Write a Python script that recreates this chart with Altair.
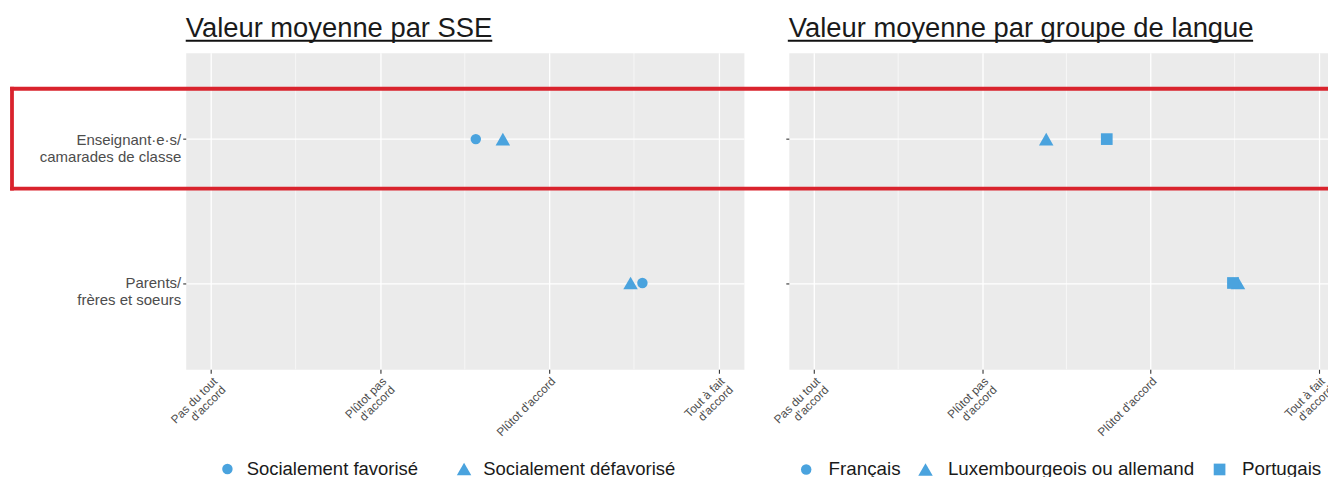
import json
import altair as alt
import pandas as pd

# ---------------- data ----------------
rows = ["Enseignant·e·s/ camarades de classe", "Parents/ frères et soeurs"]
x_ticks = [1, 2, 3, 4]
x_labels = ["Pas du tout|d'accord", "Plûtot pas|d'accord", "Plûtot d'accord", "Tout à fait|d'accord"]
minor_ticks = [1.5, 2.5, 3.5]

sse_groups = ["Socialement favorisé", "Socialement défavorisé"]
sse_teachers = [2.565, 2.725]
sse_parents = [3.55, 3.48]

lang_groups = ["Français", "Luxembourgeois ou allemand", "Portugais"]
lang_teachers = [2.74, 2.38, 2.74]
lang_parents = [3.49, 3.52, 3.49]

BLUE = "#4aa3de"
RED = "#d9232d"
FONT = "Liberation Sans"


def make_df(groups, teachers, parents):
    recs = []
    for g, t, p in zip(groups, teachers, parents):
        recs.append({"item": rows[0], "groupe": g, "valeur": t})
        recs.append({"item": rows[1], "groupe": g, "valeur": p})
    return pd.DataFrame(recs)


x_label_expr = "split(%s[datum.value - 1], '|')" % json.dumps(x_labels, ensure_ascii=False)
y_label_expr = "split(replace(datum.label, '/ ', '/|'), '|')"


def panel(df, groups, shapes, sizes, width, xmax, title, ul_x1, ul_x2,
          leg_x, leg_pad, leg_off, leg_fs, show_ylabels, extent):
    xscale = alt.Scale(domain=[0.85, xmax], nice=False, zero=False)
    yscale = alt.Scale(type="point", padding=0.6, domain=rows)
    xaxis = alt.Axis(values=x_ticks, labelExpr=x_label_expr, labelAngle=315,
                     labelAlign="right", labelBaseline="top", labelFontSize=11.8,
                     labelLineHeight=12, labelColor="#4d4d4d", labelPadding=2,
                     labelFont=FONT, tickSize=4, tickColor="#333333", tickWidth=1.1,
                     grid=True, gridColor="white", gridWidth=1.3, domain=False,
                     title=None, labelOverlap=False, labelFlush=False)
    yaxis = alt.Axis(labels=show_ylabels, labelExpr=y_label_expr, labelFontSize=15,
                     labelLineHeight=17, labelColor="#4d4d4d", labelPadding=2,
                     labelFont=FONT, tickSize=3, tickColor="#333333", tickWidth=1.1,
                     grid=True, gridColor="white", gridWidth=1.3, domain=False,
                     title=None, minExtent=extent, labelLimit=0)
    legend = alt.Legend(orient="none", legendX=leg_x, legendY=407.5, direction="horizontal",
                        title=None, labelFontSize=leg_fs, labelColor="#1a1a1a", labelFont=FONT,
                        columnPadding=leg_pad, labelOffset=leg_off, symbolFillColor=BLUE,
                        symbolStrokeWidth=0, symbolOpacity=1, padding=0, labelLimit=0)

    minor = alt.Chart(pd.DataFrame({"m": minor_ticks})).mark_rule(
        color="white", strokeWidth=0.6
    ).encode(x=alt.X("m:Q", scale=xscale, axis=xaxis))

    points = alt.Chart(df).mark_point(filled=True, opacity=1, color=BLUE, strokeWidth=0).encode(
        x=alt.X("valeur:Q", scale=xscale, axis=xaxis),
        y=alt.Y("item:N", scale=yscale, axis=yaxis, sort=rows),
        shape=alt.Shape("groupe:N", scale=alt.Scale(domain=groups, range=shapes),
                        legend=legend, sort=groups),
        size=alt.Size("groupe:N", scale=alt.Scale(type="ordinal", domain=groups, range=sizes),
                      legend=legend, sort=groups),
    )

    underline = alt.Chart(alt.Data(values=[{}])).mark_rule(color="#111111", strokeWidth=2).encode(
        x=alt.value(ul_x1), x2=alt.value(ul_x2), y=alt.value(-12)
    )

    t = alt.TitleParams(title, anchor="start", frame="group", fontSize=27.4, font=FONT,
                        fontWeight="normal", color="#1a1a1a", offset=-3)
    return [minor, points, underline], t


left_layers, left_title = panel(
    make_df(sse_groups, sse_teachers, sse_parents), sse_groups,
    ["circle", "triangle-up"], [110, 210], 559, 4.15,
    "Valeur moyenne par SSE", 0, 307, 32.5, 36, 10, 18.5, True, 175)

right_layers, right_title = panel(
    make_df(lang_groups, lang_teachers, lang_parents), lang_groups,
    ["circle", "triangle-up", "square"], [110, 210, 137], 556, 4.15,
    "Valeur moyenne par groupe de langue", -1, 465, 8, 15.5, 13, 18.8, False, 4)

# highlight box (annotation), drawn in the right panel so it lies on top of both
one = alt.Data(values=[{}])
box_top = alt.Chart(one).mark_rule(color=RED, strokeWidth=3.8, strokeCap="square").encode(
    x=alt.value(-778), x2=alt.value(556), y=alt.value(36))
box_bottom = alt.Chart(one).mark_rule(color=RED, strokeWidth=3.8, strokeCap="square").encode(
    x=alt.value(-778), x2=alt.value(556), y=alt.value(136))
box_left = alt.Chart(one).mark_rule(color=RED, strokeWidth=3.8, strokeCap="square").encode(
    x=alt.value(-778), y=alt.value(36), y2=alt.value(136))

left = alt.layer(*left_layers).properties(width=559, height=317, title=left_title)
right = alt.layer(*right_layers, box_top, box_bottom, box_left).properties(
    width=556, height=317, title=right_title)

chart = alt.hconcat(left, right, spacing=45, bounds="flush").resolve_scale(
    shape="independent", size="independent"
).resolve_legend(
    shape="independent", size="independent"
).properties(
    padding={"left": 0, "top": 6.5, "right": -20, "bottom": -3.5}
).configure(font=FONT).configure_view(fill="#ebebeb", stroke="transparent")

chart.save("out.html", embed_options={"renderer": "svg", "actions": False})
